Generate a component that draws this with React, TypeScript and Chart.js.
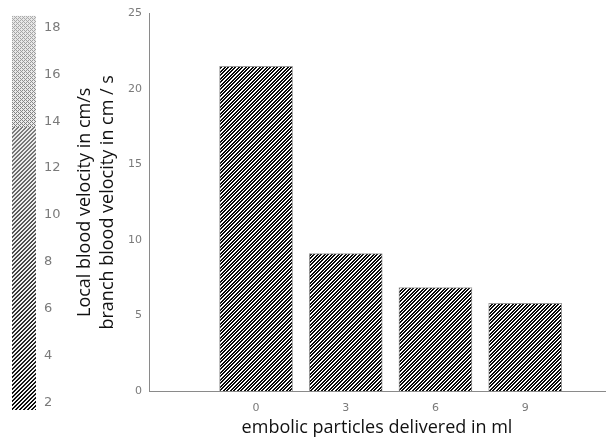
import React, { useEffect, useRef } from "react";
import { Chart, registerables } from "chart.js";

Chart.register(...registerables);

// ---- data ----
const particlesMl: number[] = [0, 3, 6, 9];
const branchVelocity: number[] = [21.5, 9.1, 6.85, 5.8];
const xTickValues: number[] = [0, 3, 6, 9];
const yTickValues: number[] = [0, 5, 10, 15, 20, 25];
const colorbarTicks: number[] = [2, 4, 6, 8, 10, 12, 14, 16, 18];
const colorbarRange: number[] = [1.67, 18.5];
const xRange: number[] = [-3.58, 11.67];
const yRange: number[] = [0, 25];
const xTitle = "embolic particles delivered in ml";
const yTitle: string[] = ["Local blood velocity in cm/s", "branch blood velocity in cm / s"];

function makeHatch(): CanvasPattern | string {
  const c = document.createElement("canvas");
  c.width = 7;
  c.height = 7;
  const ctx = c.getContext("2d");
  if (!ctx) return "#444";
  const img = ctx.createImageData(7, 7);
  for (let y = 0; y < 7; y++) {
    for (let x = 0; x < 7; x++) {
      const k = (2 * (x + y)) % 7;
      const v = k < 4 ? 10 : 255;
      const i = (y * 7 + x) * 4;
      img.data[i] = v;
      img.data[i + 1] = v;
      img.data[i + 2] = v;
      img.data[i + 3] = 255;
    }
  }
  ctx.putImageData(img, 0, 0);
  return ctx.createPattern(c, "repeat") || "#444";
}

function makeColorbarFill(w: number, h: number, top: number, bottom: number): CanvasPattern | string {
  const c = document.createElement("canvas");
  c.width = w;
  c.height = h;
  const ctx = c.getContext("2d");
  if (!ctx) return "#888";
  const img = ctx.createImageData(w, h);
  for (let y = 0; y < h; y++) {
    let t = (y - top) / (bottom - top);
    t = Math.max(0, Math.min(1, t));
    const ink = 175 - 165 * t;
    const paper = 245 - 15 * (1 - t);
    for (let x = 0; x < w; x++) {
      const on = t < 0.3 ? (x % 2 === 0 && y % 2 === 0) || ((x + y) % 4 === 0) : (x + y) % 4 < 2;
      const v = on ? ink : paper;
      const i = (y * w + x) * 4;
      img.data[i] = v;
      img.data[i + 1] = v;
      img.data[i + 2] = v;
      img.data[i + 3] = 255;
    }
  }
  ctx.putImageData(img, 0, 0);
  return ctx.createPattern(c, "no-repeat") || "#888";
}

export default function App() {
  const mainRef = useRef<HTMLCanvasElement | null>(null);
  const cbRef = useRef<HTMLCanvasElement | null>(null);

  useEffect(() => {
    if (!mainRef.current || !cbRef.current) return;
    const hatch = makeHatch();
    const tickColor = "#7a7a7a";
    const tickFont = { family: "'DejaVu Sans'", size: 11 };

    const main = new Chart(mainRef.current, {
      type: "bar",
      data: {
        datasets: [
          {
            data: particlesMl.map((x, i) => ({ x, y: branchVelocity[i] })),
            backgroundColor: hatch as any,
            borderColor: "#9a9a9a",
            borderWidth: 1,
            barThickness: 73,
          },
        ],
      },
      options: {
        responsive: false,
        devicePixelRatio: 1,
        animation: false,
        layout: { padding: { left: 70, right: 3, top: 11, bottom: 0 } },
        plugins: { legend: { display: false }, tooltip: { enabled: false } },
        scales: {
          x: {
            type: "linear",
            position: "bottom",
            offset: false,
            min: xRange[0],
            max: xRange[1],
            afterBuildTicks: (s: any) => {
              s.ticks = xTickValues.map((v) => ({ value: v }));
            },
            afterFit: (s: any) => {
              s.height = 54;
            },
            ticks: { color: tickColor, font: tickFont, padding: 11, callback: (v: any) => String(v) },
            grid: { display: false, drawTicks: false },
            border: { display: true, color: "#8a8a8a", width: 1, dash: [3, 2] },
            title: {
              display: true,
              text: xTitle,
              color: "#111",
              font: { family: "'Open Sans'", size: 18 },
              padding: { top: 0, bottom: 6 },
            },
          },
          y: {
            type: "linear",
            position: "left",
            min: yRange[0],
            max: yRange[1],
            afterBuildTicks: (s: any) => {
              s.ticks = yTickValues.map((v) => ({ value: v }));
            },
            afterFit: (s: any) => {
              s.width = 79;
            },
            ticks: { color: tickColor, font: tickFont, padding: 7, callback: (v: any) => String(v) },
            grid: { display: false, drawTicks: false },
            border: { display: true, color: "#8a8a8a", width: 1, dash: [3, 2] },
            title: {
              display: true,
              text: yTitle,
              color: "#111",
              font: { family: "'Open Sans'", size: 18, lineHeight: 1.28 },
              padding: { top: 3.5, bottom: 0 },
            },
          },
        },
      },
    });

    const cbFill = makeColorbarFill(70, 445, 5, 410);
    const cb = new Chart(cbRef.current, {
      type: "bar",
      data: {
        labels: ["colorbar"],
        datasets: [
          {
            data: [[colorbarRange[0], colorbarRange[1]]] as any,
            backgroundColor: cbFill as any,
            borderWidth: 0,
            barPercentage: 1,
            categoryPercentage: 1,
          },
        ],
      },
      options: {
        responsive: false,
        devicePixelRatio: 1,
        animation: false,
        layout: { padding: { left: 12, right: 0, top: 5, bottom: 35 } },
        plugins: { legend: { display: false }, tooltip: { enabled: false } },
        scales: {
          x: { display: false },
          y: {
            position: "right",
            min: colorbarRange[0],
            max: colorbarRange[1],
            afterBuildTicks: (s: any) => {
              s.ticks = colorbarTicks.map((v) => ({ value: v }));
            },
            afterFit: (s: any) => {
              s.width = 34;
            },
            ticks: { color: tickColor, font: { family: "'DejaVu Sans'", size: 13 }, padding: 8, callback: (v: any) => String(v) },
            grid: { display: false, drawTicks: false },
            border: { display: false },
          },
        },
      },
    });

    return () => {
      main.destroy();
      cb.destroy();
    };
  }, []);

  return (
    <div style={{ position: "fixed", left: 0, top: 0, width: 608, height: 445, background: "#fff" }}>
      <canvas ref={mainRef} width={608} height={445} style={{ position: "absolute", left: 0, top: 0, display: "block" }} />
      <canvas ref={cbRef} width={70} height={445} style={{ position: "absolute", left: 0, top: 0, display: "block" }} />
    </div>
  );
}
